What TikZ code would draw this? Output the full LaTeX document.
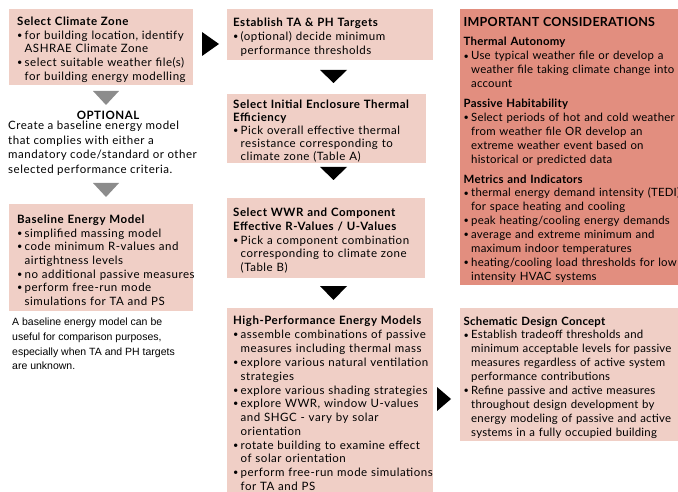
\documentclass[tikz,border=0pt]{standalone}
\usepackage{fontspec}
\setmainfont{Lato}[LetterSpace=4.5]
\newfontfamily\rightfont{Lato}[LetterSpace=2]
\newfontfamily\notefont{Liberation Sans}
\definecolor{boxpink}{HTML}{F0CFC6}
\definecolor{boxsalmon}{HTML}{E28E7F}
\definecolor{arrowgrey}{HTML}{8C8C8C}
% one line each: heading, bullet line, continued line
\newcommand\hd[1]{\par\noindent\textbf{#1}}
\newcommand\subhd[1]{\par\vspace{6pt}\noindent\textbf{#1}}
\newcommand\bul[1]{\par\noindent\makebox[7.5pt][l]{\raisebox{0.15ex}{\scalebox{0.8}{\textbullet}}}\mbox{#1}}
\newcommand\cont[1]{\par\noindent\hspace*{7.5pt}\mbox{#1}}
\begin{document}
\begin{tikzpicture}[x=1pt,y=-1pt,
  stepbox/.style={fill=boxpink,anchor=north west,align=left,inner xsep=6pt,inner ysep=3pt,
    font=\fontsize{11.5}{13.6}\selectfont},
  keybox/.style={stepbox,fill=boxsalmon}]
\useasboundingbox (0,0) rectangle (678,492);
\clip (0,0) rectangle (678,492);
% left column
\node[stepbox,inner xsep=8pt,text width=168,minimum height=75] (zone) at (9,9) {%
\hd{Select Climate Zone}
\bul{for building location, identify}
\cont{ASHRAE Climate Zone}
\bul{select suitable weather file(s)}
\cont{for building energy modelling}};
\node[font=\fontsize{11.5}{13}\selectfont\bfseries] (opt) at (108,115) {OPTIONAL};
\node[anchor=north west,align=left,inner sep=0,font=\fontsize{11.5}{14.6}\selectfont] (optnote) at (8,121)
{Create a baseline energy model\\that complies with either a\\mandatory code/standard or other\\selected performance criteria.};
\node[stepbox,inner xsep=8pt,text width=168,minimum height=107] (base) at (9,204) {%
\hd{Baseline Energy Model}
\bul{simplified massing model}
\bul{code minimum R-values and}
\cont{airtightness levels}
\bul{no additional passive measures}
\bul{perform free-run mode}
\cont{simulations for TA and PS}};
\node[anchor=north west,align=left,inner sep=0,font=\notefont\fontsize{10.5}{14.6}\selectfont] (basenote) at (12,318)
{A baseline energy model can be\\useful for comparison purposes,\\especially when TA and PH targets\\are unknown.};
% middle column
\node[stepbox,text width=194,minimum height=51] (target) at (227,9) {%
\hd{Establish TA \& PH Targets}
\bul{(optional) decide minimum}
\cont{performance thresholds}};
\node[stepbox,inner ysep=1pt,text width=187,minimum height=63,font=\fontsize{11.5}{13}\selectfont] (initial) at (227,94) {%
\hd{Select Initial Enclosure Thermal}
\hd{Efficiency}
\bul{Pick overall effective thermal}
\cont{resistance corresponding to}
\cont{climate zone (Table A)}};
\node[stepbox,inner ysep=2pt,text width=186,minimum height=80] (wwr) at (227,198) {%
\hd{Select WWR and Component}
\hd{Effective R-Values / U-Values}
\bul{Pick a component combination}
\cont{corresponding to climate zone}
\cont{(Table B)}};
\node[stepbox,text width=194,font=\fontsize{11.5}{13.8}\selectfont] (hpm) at (227,308) {%
\hd{High-Performance Energy Models}
\bul{assemble combinations of passive}
\cont{measures including thermal mass}
\bul{explore various natural ventilation}
\cont{strategies}
\bul{explore various shading strategies}
\bul{explore WWR, window U-values}
\cont{and SHGC - vary by solar}
\cont{orientation}
\bul{rotate building to examine effect}
\cont{of solar orientation}
\bul{perform free-run mode simulations}
\cont{for TA and PS}\par\vspace*{8pt}};
% right column
\node[keybox,inner xsep=3.5pt,text width=240,minimum height=274,font=\rightfont\fontsize{11.4}{13.9}\selectfont] (consid) at (460,9) {%
\hd{\fontsize{12.5}{14}\selectfont IMPORTANT CONSIDERATIONS}
\subhd{Thermal Autonomy}
\bul{Use typical weather file or develop a}
\cont{weather file taking climate change into}
\cont{account}
\subhd{Passive Habitability}
\bul{Select periods of hot and cold weather}
\cont{from weather file OR develop an}
\cont{extreme weather event based on}
\cont{historical or predicted data}
\subhd{Metrics and Indicators}
\bul{thermal energy demand intensity (TEDI)}
\cont{for space heating and cooling}
\bul{peak heating/cooling energy demands}
\bul{average and extreme minimum and}
\cont{maximum indoor temperatures}
\bul{heating/cooling load thresholds for low}
\cont{intensity HVAC systems}};
\node[stepbox,inner xsep=3.5pt,text width=240,minimum height=130,font=\rightfont\fontsize{11.4}{13.9}\selectfont] (concept) at (460,308) {%
\hd{Schematic Design Concept}
\bul{Establish tradeoff thresholds and}
\cont{minimum acceptable levels for passive}
\cont{measures regardless of active system}
\cont{performance contributions}
\bul{Refine passive and active measures}
\cont{throughout design development by}
\cont{energy modeling of passive and active}
\cont{systems in a fully occupied building}};
% arrow heads
\fill[arrowgrey] (93,91) -- (119,91) -- (106,105) -- cycle;
\fill[arrowgrey] (93,183) -- (119,183) -- (106,197) -- cycle;
\fill (320,70) -- (347,70) -- (333.5,83) -- cycle;
\fill (320,167) -- (347,167) -- (333.5,180) -- cycle;
\fill (320,286) -- (347,286) -- (333.5,300) -- cycle;
\fill (202,32) -- (219,44) -- (202,56) -- cycle;
\fill (437,387) -- (451,399) -- (437,411) -- cycle;
\end{tikzpicture}
\end{document}
